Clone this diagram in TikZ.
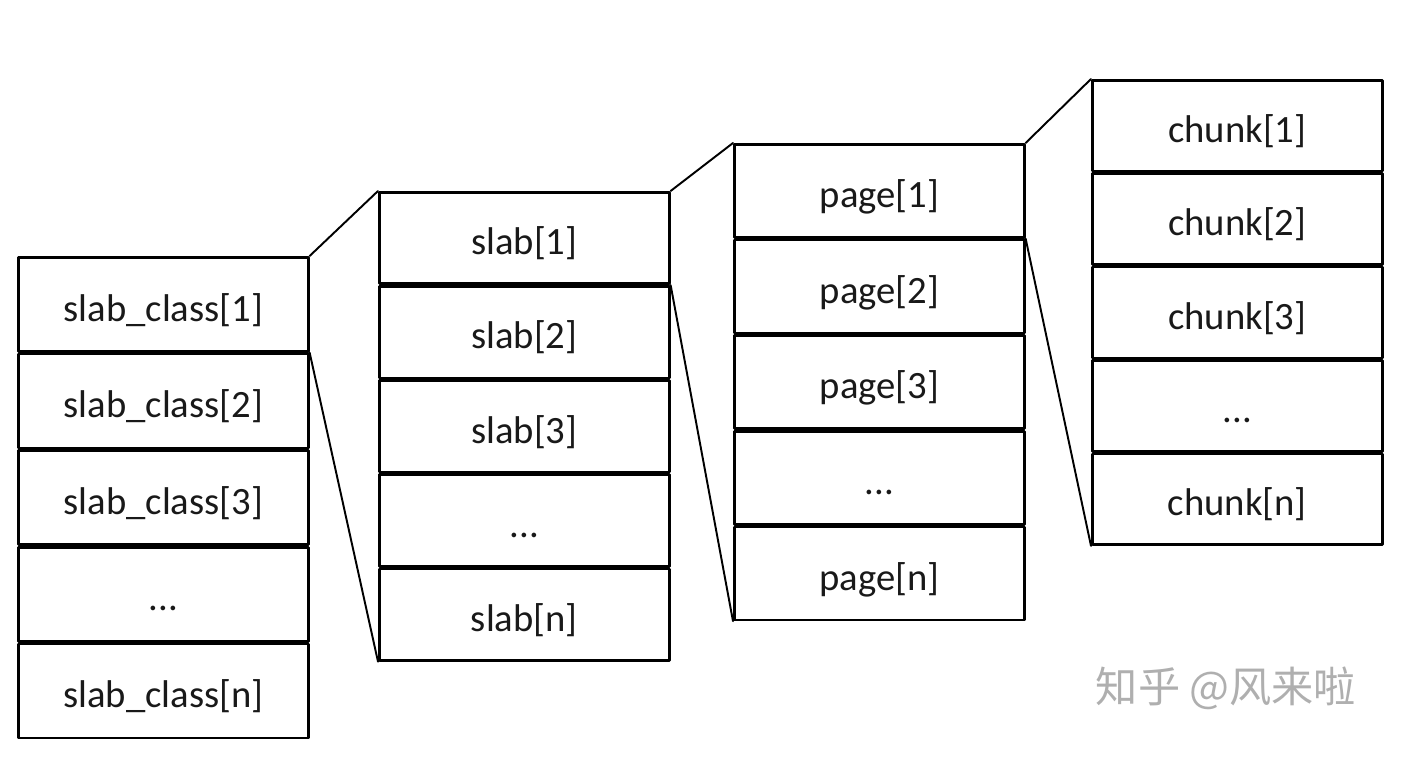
\documentclass[tikz,border=0pt]{standalone}
\usepackage{fontspec}
\setmainfont{Carlito}
\newfontfamily\cjkfont{Noto Sans CJK SC}
\usetikzlibrary{positioning}

\begin{document}
\begin{tikzpicture}[x=1cm,y=1cm,line cap=round,line join=round]
\definecolor{cellline}{RGB}{0,0,0}
\definecolor{celltext}{RGB}{25,25,25}
\definecolor{marktext}{RGB}{175,175,175}

\tikzset{
  cell/.style={draw=cellline, line width=1.5pt, minimum width=5.8cm,
    inner sep=0pt, text=celltext, text height=20pt, text depth=1pt,
    font=\fontsize{22}{26}\selectfont},
  link/.style={draw=cellline, line width=1.1pt}
}

\useasboundingbox (0,0) rectangle (28.44,15.6);

% slab_class column
\node[cell, minimum height=1.88cm, anchor=north west] (cls1) at (0.34,10.48) {slab\_class[1]};
\node[cell, minimum height=1.88cm, below=0pt of cls1] (cls2) {slab\_class[2]};
\node[cell, minimum height=1.88cm, below=0pt of cls2] (cls3) {slab\_class[3]};
\node[cell, minimum height=1.88cm, below=0pt of cls3] (cls4) {...};
\node[cell, minimum height=1.88cm, below=0pt of cls4] (cls5) {slab\_class[n]};

% slab column
\node[cell, minimum height=1.83cm, anchor=north west] (slab1) at (7.56,11.78) {slab[1]};
\node[cell, minimum height=1.83cm, below=0pt of slab1] (slab2) {slab[2]};
\node[cell, minimum height=1.83cm, below=0pt of slab2] (slab3) {slab[3]};
\node[cell, minimum height=1.83cm, below=0pt of slab3] (slab4) {...};
\node[cell, minimum height=1.83cm, below=0pt of slab4] (slab5) {slab[n]};

% page column
\node[cell, minimum height=1.86cm, anchor=north west] (page1) at (14.66,12.74) {page[1]};
\node[cell, minimum height=1.86cm, below=0pt of page1] (page2) {page[2]};
\node[cell, minimum height=1.86cm, below=0pt of page2] (page3) {page[3]};
\node[cell, minimum height=1.86cm, below=0pt of page3] (page4) {...};
\node[cell, minimum height=1.86cm, below=0pt of page4] (page5) {page[n]};

% chunk column
\node[cell, minimum height=1.815cm, anchor=north west] (chunk1) at (21.82,14.02) {chunk[1]};
\node[cell, minimum height=1.815cm, below=0pt of chunk1] (chunk2) {chunk[2]};
\node[cell, minimum height=1.815cm, below=0pt of chunk2] (chunk3) {chunk[3]};
\node[cell, minimum height=1.815cm, below=0pt of chunk3] (chunk4) {...};
\node[cell, minimum height=1.815cm, below=0pt of chunk4] (chunk5) {chunk[n]};

% zoom lines
\draw[link] (cls1.north east) -- (slab1.north west);
\draw[link] (cls1.south east) -- (slab5.south west);
\draw[link] (slab1.north east) -- (page1.north west);
\draw[link] (slab1.south east) -- (page5.south west);
\draw[link] (page1.north east) -- (chunk1.north west);
\draw[link] (page1.south east) -- (chunk5.south west);

\node[text=marktext, font=\cjkfont\fontsize{24}{28}\selectfont] (zhihu) at (24.52,1.84) {知乎 @风来啦};
\end{tikzpicture}
\end{document}
